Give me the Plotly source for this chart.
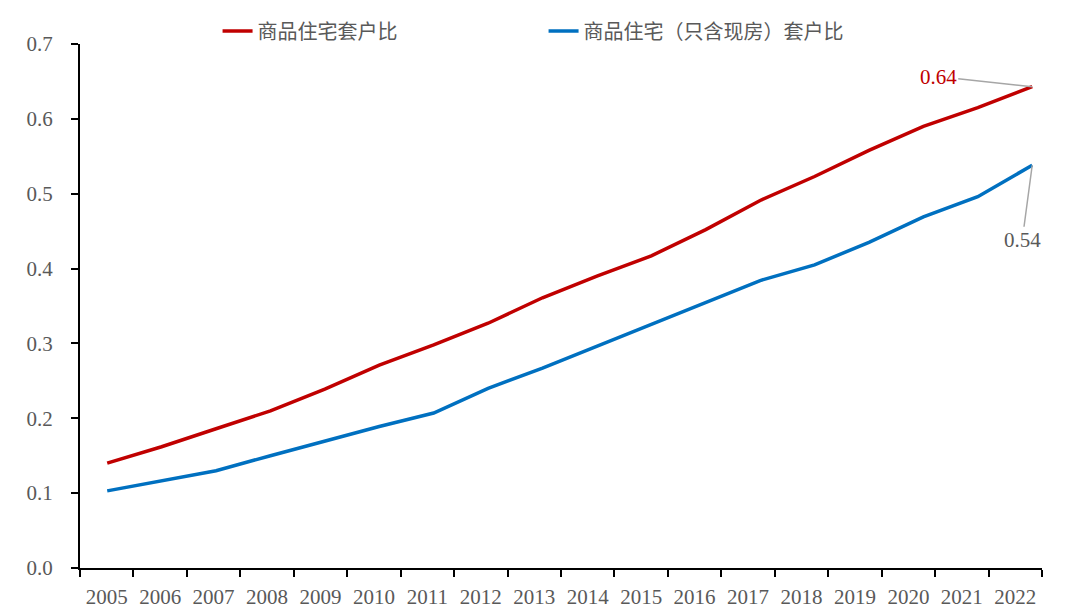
import plotly.graph_objects as go

years = list(range(2005, 2023))
year_labels = [str(y) for y in years]
red_vals = [0.140, 0.162, 0.186, 0.210, 0.239, 0.271, 0.298, 0.327, 0.361, 0.390,
            0.417, 0.452, 0.491, 0.523, 0.558, 0.590, 0.615, 0.643]
blue_vals = [0.103, 0.116, 0.130, 0.150, 0.170, 0.189, 0.207, 0.240, 0.267, 0.296,
             0.326, 0.354, 0.384, 0.405, 0.435, 0.469, 0.496, 0.538]
series_names = ["商品住宅套户比", "商品住宅（只含现房）套户比"]
red_label = "0.64"
blue_label = "0.54"

RED = "#C00000"
BLUE = "#0070C0"
GRAY = "#595959"
tick_font = dict(family="Liberation Serif", size=21, color=GRAY)

fig = go.Figure()
# invisible trace to anchor the category (label) axis
fig.add_trace(go.Scatter(x=years, y=red_vals, mode="lines", line=dict(width=0),
                         opacity=0, showlegend=False, hoverinfo="skip",
                         xaxis="x", yaxis="y"))
fig.add_trace(go.Scatter(x=years, y=red_vals, mode="lines", name=series_names[0],
                         line=dict(color=RED, width=3.5), xaxis="x2", yaxis="y"))
fig.add_trace(go.Scatter(x=years, y=blue_vals, mode="lines", name=series_names[1],
                         line=dict(color=BLUE, width=3.5), xaxis="x2", yaxis="y"))

fig.add_annotation(x=years[-1], y=red_vals[-1], xref="x2", yref="y", text=red_label,
                   showarrow=True, arrowhead=0, arrowwidth=1.5, arrowcolor="#A6A6A6",
                   ax=-94, ay=-10, font=dict(family="Liberation Serif", size=21, color=RED))
fig.add_annotation(x=years[-1], y=blue_vals[-1], xref="x2", yref="y", text=blue_label,
                   showarrow=True, arrowhead=0, arrowwidth=1.5, arrowcolor="#A6A6A6",
                   ax=-10, ay=75, font=dict(family="Liberation Serif", size=21, color=GRAY))

fig.update_layout(
    width=1072, height=605,
    margin=dict(l=72, r=38, t=36, b=45, autoexpand=False),
    paper_bgcolor="white", plot_bgcolor="white",
    showlegend=True,
    legend=dict(orientation="h", x=0.143, xanchor="left", y=1.025, yanchor="middle",
                font=dict(family="Noto Sans CJK SC", size=20, color=GRAY),
                entrywidth=281, bgcolor="rgba(0,0,0,0)"),
    xaxis=dict(range=[2004.5, 2022.5], tickvals=years, ticktext=year_labels,
               ticks="", showline=True, linecolor="black", linewidth=2,
               showgrid=False, zeroline=False, tickfont=tick_font, automargin=False,
               ticklabelstandoff=9,
               minor=dict(tickvals=[y - 0.5 for y in years] + [years[-1] + 0.5],
                          ticks="outside", ticklen=7, tickwidth=2, tickcolor="black")),
    xaxis2=dict(range=[2004.5, 2022.18], overlaying="x", visible=False),
    yaxis=dict(range=[0, 0.7], dtick=0.1, tickformat=".1f", ticks="outside",
               ticklen=7, tickwidth=2, tickcolor="black", showline=True,
               linecolor="black", linewidth=2, showgrid=False, zeroline=False,
               tickfont=tick_font, ticklabelstandoff=14, automargin=False),
)

fig.write_html("out.html")
